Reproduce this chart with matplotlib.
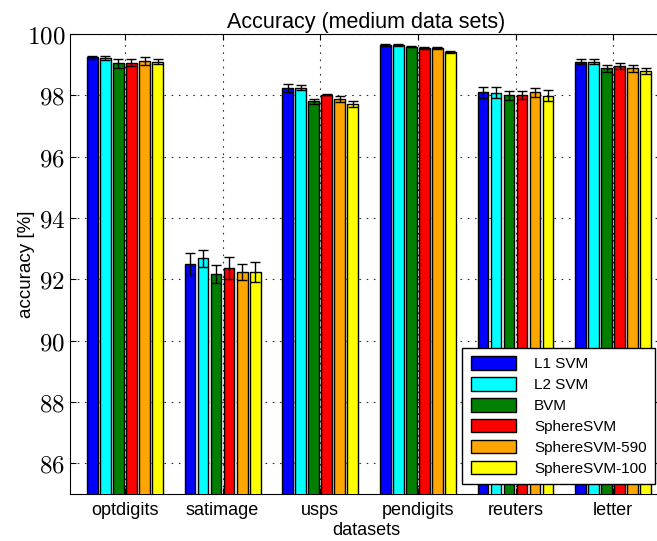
import numpy as np
import matplotlib
matplotlib.use("Agg")
from matplotlib import pyplot as plt
from matplotlib.ticker import FuncFormatter

plt.rcParams['font.family'] = ['Liberation Sans', 'DejaVu Sans']
plt.rcParams['mathtext.fontset'] = 'cm'

datasets = ["optdigits", "satimage", "usps", "pendigits", "reuters", "letter"]
methods = ["L1 SVM", "L2 SVM", "BVM", "SphereSVM", "SphereSVM-590", "SphereSVM-100"]
colores = ["#0000ff", "#00ffff", "#007f00", "#ff0000", "#ffa500", "#ffff00"]

# una lista por metodo, un valor por dataset
l1_svm = [99.24, 92.50, 98.24, 99.65, 98.10, 99.10]
l2_svm = [99.21, 92.68, 98.25, 99.64, 98.09, 99.10]
bvm = [99.04, 92.17, 97.81, 99.59, 98.00, 98.88]
sphere = [99.07, 92.37, 98.02, 99.54, 98.00, 98.95]
sphere_590 = [99.12, 92.24, 97.88, 99.55, 98.10, 98.88]
sphere_100 = [99.10, 92.24, 97.71, 99.42, 97.99, 98.79]

l1_err = [0.05, 0.35, 0.12, 0.03, 0.18, 0.08]
l2_err = [0.07, 0.28, 0.08, 0.03, 0.17, 0.07]
bvm_err = [0.15, 0.29, 0.08, 0.02, 0.15, 0.12]
sphere_err = [0.10, 0.35, 0.02, 0.03, 0.13, 0.10]
sphere_590_err = [0.13, 0.25, 0.09, 0.03, 0.15, 0.11]
sphere_100_err = [0.09, 0.33, 0.09, 0.04, 0.18, 0.09]

valores = [l1_svm, l2_svm, bvm, sphere, sphere_590, sphere_100]
errores = [l1_err, l2_err, bvm_err, sphere_err, sphere_590_err, sphere_100_err]

fig = plt.figure(figsize=(6.57, 5.41), dpi=100)
# el eje sigue un poco mas alla del borde derecho, como en la original
ax = fig.add_axes([70 / 657, 47 / 541, 592 / 657, 460 / 541])

x = np.arange(len(datasets))
paso = 0.8 / len(methods)
ancho = 0.11
for i in range(len(methods)):
    pos = x - 0.4 + paso * (i + 0.5)
    ax.bar(pos, valores[i], ancho, bottom=0, color=colores[i], edgecolor='black',
           linewidth=1.0, label=methods[i], zorder=3)
    ax.errorbar(pos, valores[i], yerr=errores[i], fmt='none', ecolor='black',
                elinewidth=1.0, capsize=3.5, capthick=1.0, zorder=4)

ax.set_ylim(85, 100)
ax.set_xlim(-0.563, 5.5)
ax.set_yticks([86, 88, 90, 92, 94, 96, 98, 100])
ax.yaxis.set_major_formatter(FuncFormatter(lambda v, p: r"$%d$" % v))
ax.set_xticks(x)
ax.set_xticklabels(datasets, fontsize=13)
ax.tick_params(axis='y', labelsize=18, direction='in', length=4, right=True)
ax.tick_params(axis='x', direction='in', length=4, pad=6, top=True)
ax.grid(True, linestyle=(0, (1.5, 5)), color='#333333', linewidth=0.8, zorder=0)
ax.set_axisbelow(True)

ax.set_title("Accuracy (medium data sets)", fontsize=15.5, pad=4)
ax.set_xlabel("datasets", fontsize=13, labelpad=2)
ax.set_ylabel("accuracy [%]", fontsize=13.5, labelpad=-6)

ax.legend(loc='lower right', fontsize=11, frameon=True, fancybox=False,
          edgecolor='black', framealpha=1, handlelength=2.95, handleheight=1.0,
          handletextpad=1.2, borderpad=0.55, labelspacing=0.38, borderaxespad=0,
          bbox_to_anchor=(655 / 657, 57 / 541), bbox_transform=fig.transFigure)

fig.savefig("out.png", dpi=100)
